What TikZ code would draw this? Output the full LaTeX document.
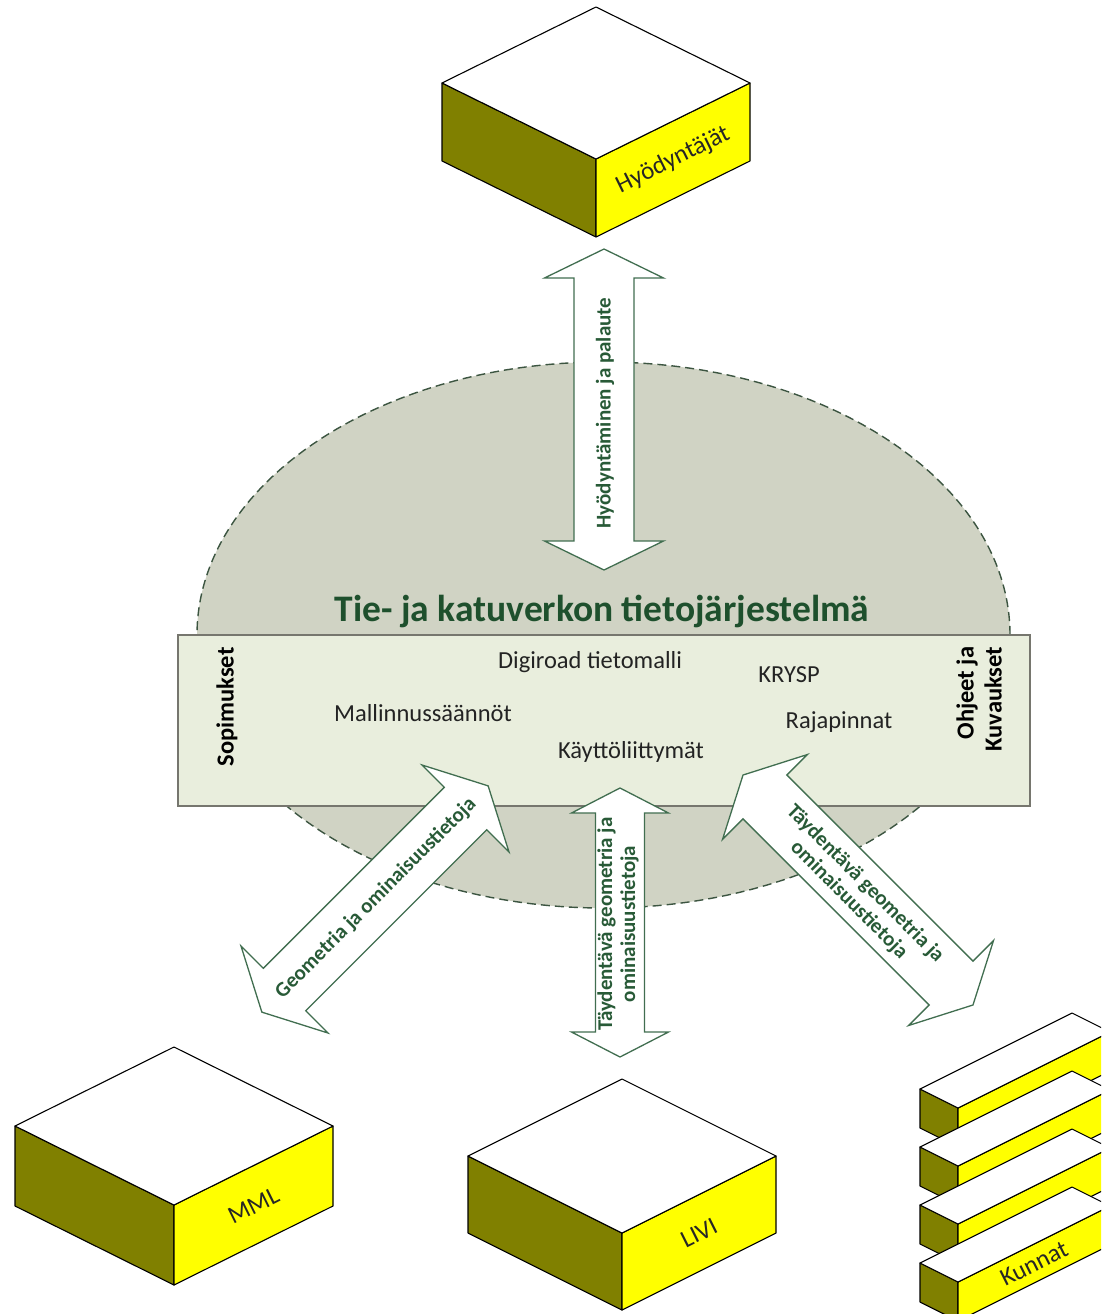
\documentclass[tikz,border=0pt]{standalone}
\usepackage{fontspec}
\setmainfont{Carlito}
\usetikzlibrary{calc,shapes.geometric}
\definecolor{ellfill}{RGB}{208,211,196}
\definecolor{elldash}{RGB}{60,85,65}
\definecolor{boxfill}{RGB}{233,238,221}
\definecolor{boxline}{RGB}{118,118,110}
\definecolor{arrowline}{RGB}{65,110,80}
\definecolor{gtext}{RGB}{40,90,55}
\definecolor{titlegreen}{RGB}{30,80,45}
\definecolor{textgray}{RGB}{35,35,35}
\definecolor{olivedark}{RGB}{128,128,0}
\definecolor{yellowface}{RGB}{255,255,0}
\tikzset{
  cubeedge/.style={draw=black, line width=1.1pt, line join=round},
  arrowshape/.style={draw=arrowline, fill=white, line width=1.3pt, line join=miter},
  arrowtext/.style={text=gtext, font=\bfseries\fontsize{21}{23}\selectfont, align=center, inner sep=0pt},
  boxtext/.style={text=textgray, font=\fontsize{24.5}{28}\selectfont, inner sep=0pt},
  sidetext/.style={text=black, font=\bfseries\fontsize{24.5}{28}\selectfont, rotate=90, inner sep=0pt},
  cubelabel/.style={text=black!85, font=\fontsize{25}{28}\selectfont, inner sep=0pt},
  titlestyle/.style={text=titlegreen, font=\bfseries\fontsize{37.5}{40}\selectfont, inner sep=0pt}
}
\newcommand{\blockarrow}[7]{%
\begin{scope}[shift={(#1,#2)},rotate=#3]
\draw[arrowshape] (#4,0) -- ({#4-#7},#6) -- ({#4-#7},#5) -- ({-#4+#7},#5) -- ({-#4+#7},#6) -- (-#4,0)
 -- ({-#4+#7},-#6) -- ({-#4+#7},-#5) -- ({#4-#7},-#5) -- ({#4-#7},-#6) -- cycle;
\end{scope}}
\newcommand{\isocube}[7]{%
 \coordinate (#1T) at (#2,#3);
 \coordinate (#1L) at ($(#1T)+(-#4,#5)$);
 \coordinate (#1R) at ($(#1T)+(#4,#5)$);
 \coordinate (#1F) at ($(#1T)+(0,2*#5)$);
 \filldraw[cubeedge, fill=olivedark] (#1L) -- (#1F) -- ($(#1F)+(0,#6)$) -- ($(#1L)+(0,#6)$) -- cycle;
 \filldraw[cubeedge, fill=yellowface] (#1F) -- (#1R) -- ($(#1R)+(0,#6)$) -- ($(#1F)+(0,#6)$) -- cycle;
 \filldraw[cubeedge, fill=white] (#1T) -- (#1L) -- (#1F) -- (#1R) -- cycle;
 \node[cubelabel, rotate={atan(#5/#4)}] (#1) at ($(#1F)!0.5!(#1R)+(0,#6/2)$) {#7};
}
\newcommand{\kbar}[3]{%
 \coordinate (#1A) at (#2,#3);
 \coordinate (#1B) at ($(#1A)+(38,19)$);
 \coordinate (#1C) at ($(#1A)+(152,-76)$);
 \coordinate (#1D) at ($(#1A)+(190,-57)$);
 \filldraw[cubeedge, fill=olivedark] (#1A) -- (#1B) -- ($(#1B)+(0,39)$) -- ($(#1A)+(0,39)$) -- cycle;
 \filldraw[cubeedge, fill=yellowface] (#1B) -- (#1D) -- ($(#1D)+(0,39)$) -- ($(#1B)+(0,39)$) -- cycle;
 \filldraw[cubeedge, fill=white] (#1A) -- (#1B) -- (#1D) -- (#1C) -- cycle;
}
\begin{document}
\begin{tikzpicture}[x=1pt,y=-1pt]
\fill[white] (0,0) rectangle (1101,1314);
\useasboundingbox (0,0) rectangle (1101,1314);
\clip (0,0) rectangle (1101,1314);

% system ellipse
\node[ellipse, draw=elldash, fill=ellfill, line width=1.4pt, dash pattern=on 9pt off 5pt,
      minimum width=813pt, minimum height=546pt, inner sep=0pt] (sys) at (603.5,635) {};
% core box
\node[draw=boxline, fill=boxfill, line width=2pt, minimum width=852pt, minimum height=171pt, inner sep=0pt] (core) at (604,720.5) {};
\node[titlestyle] (title) at (602,611) {Tie- ja katuverkon tietojärjestelmä};

\node[boxtext] (digiroad) at (590,662) {Digiroad tietomalli};
\node[boxtext] (krysp) at (789,675) {KRYSP};
\node[boxtext] (mallinnus) at (423,713) {Mallinnussäännöt};
\node[boxtext] (rajapinnat) at (839,722) {Rajapinnat};
\node[boxtext] (kaytto) at (631,752) {Käyttöliittymät};
\node[sidetext] (sopimukset) at (227,707) {Sopimukset};
\node[sidetext, align=right] (ohjeet) at (979,699) {Ohjeet ja\\Kuvaukset};

% block arrows
\blockarrow{604}{409.5}{90}{160.5}{30}{59.5}{29}
\node[arrowtext, rotate=90] (a1) at (605,413) {Hyödyntäminen ja palaute};
\blockarrow{375}{899}{45}{160}{30}{61.5}{32}
\node[arrowtext, rotate=45] (a2) at (376,898) {Geometria ja ominaisuustietoja};
\blockarrow{620}{922.5}{90}{134.5}{24.5}{48.5}{25}
\node[arrowtext, rotate=90] (a3) at (618,924) {Täydentävä geometria ja\\ominaisuustietoja};
\blockarrow{858}{890}{-45}{162.6}{31}{60}{31}
\node[arrowtext, rotate=-45] (a4) at (857,892) {Täydentävä geometria ja\\ominaisuustietoja};

% cubes
\isocube{hyod}{596}{7}{154}{76}{78}{Hyödyntäjät}
\isocube{mml}{174}{1047}{159}{79}{80}{MML}
\isocube{livi}{622}{1079}{154}{77}{77}{LIVI}

% Kunnat stack
\kbar{ka}{920}{1089}
\kbar{kb}{920}{1147}
\kbar{kc}{920}{1205}
\kbar{kd}{920}{1263}
\node[cubelabel, rotate={atan(76/152)}] (kunnat) at ($(kdB)!0.5!(kdD)+(0,19.5)$) {Kunnat};
\end{tikzpicture}
\end{document}
